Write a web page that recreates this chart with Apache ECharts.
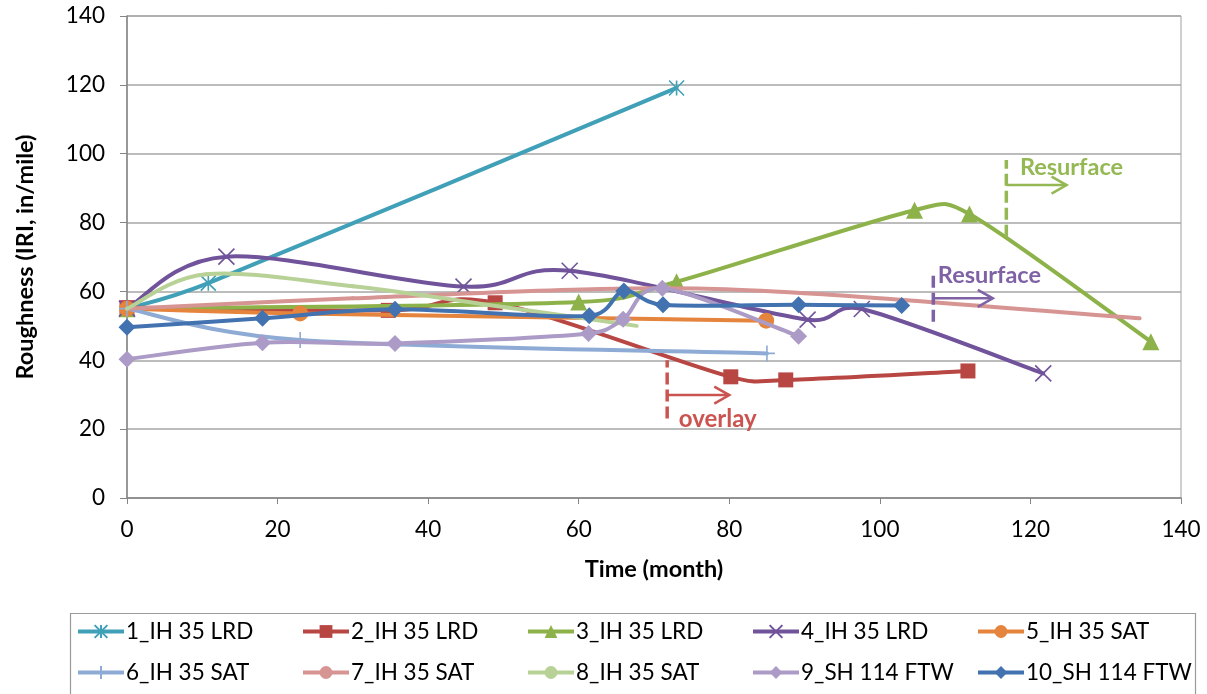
<!DOCTYPE html>
<html>
<head>
<meta charset="utf-8">
<script src="https://cdn.jsdelivr.net/npm/echarts@6/dist/echarts.min.js"></script>
<style>html,body{margin:0;padding:0;background:#fff}#c{width:1207px;height:694px}</style>
</head>
<body>
<div id="c"></div>
<script>
// ---- data (month, IRI in/mile) ----
const names = ['1_IH 35 LRD','2_IH 35 LRD','3_IH 35 LRD','4_IH 35 LRD','5_IH 35 SAT',
               '6_IH 35 SAT','7_IH 35 SAT','8_IH 35 SAT','9_SH 114 FTW','10_SH 114 FTW'];
const s1x = [0, 10.8, 73];            const s1y = [55, 62.4, 119.1];
const s2x = [0, 34.7, 48.9, 80.2, 87.5, 111.7]; const s2y = [55.3, 54.5, 56.7, 35.2, 34.3, 36.9];
const s3x = [0, 60, 73, 104.6, 111.9, 136];     const s3y = [55, 56.9, 62.8, 83.6, 82.5, 45.4];
const s4x = [0, 13.2, 44.7, 58.8, 90.4, 97.6, 121.7]; const s4y = [55, 70.1, 61.4, 66, 51.8, 54.9, 36.2];
const s5x = [0, 23, 84.9];            const s5y = [55, 53.6, 51.5];
const s6x = [0, 23, 85];              const s6y = [55, 45.9, 42];
const s7x = [0, 30, 65, 90, 134.5];   const s7y = [55, 58, 60.8, 59.5, 52.2];
const s8x = [0, 10.5, 30, 50, 67.7];  const s8y = [55, 65, 61.5, 55.5, 50];
const s9x = [0, 18, 35.6, 61.3, 65.9, 71.1, 89.2]; const s9y = [40.3, 45.1, 44.9, 47.8, 51.9, 60.9, 47];
const s10x = [0, 18, 35.6, 61.4, 66, 71.2, 89.2, 102.9]; const s10y = [49.6, 52.2, 54.8, 52.9, 60.1, 56.1, 56.1, 55.9];
const xTicks = [0, 20, 40, 60, 80, 100, 120, 140];
const yTicks = [0, 20, 40, 60, 80, 100, 120, 140];
// annotations: [lineX, lineYFrom, lineYTo, arrowY, arrowXTo, textX, textY]
const annOverlay   = [71.75, 23.1, 40, 29.9, 80, 73.3, 23.0];
const annResurfG   = [116.8, 75.9, 98.2, 90.9, 124.8, 118.6, 96.1];
const annResurfP   = [107.1, 51.2, 64.8, 58, 115, 107.7, 64.6];
const annTexts = ['overlay', 'Resurface', 'Resurface'];

const xs = [s1x,s2x,s3x,s4x,s5x,s6x,s7x,s8x,s9x,s10x];
const ys = [s1y,s2y,s3y,s4y,s5y,s6y,s7y,s8y,s9y,s10y];
const colors = ['#40A0B8','#B84744','#8DB24A','#70539A','#E5843C','#8EABD5','#D69492','#B8D196','#AB9BC6','#4272B0'];
const symbols = ['path://M0 0L10 10M10 0L0 10M5 0L5 10', 'rect', 'triangle', 'path://M0 0L10 10M10 0L0 10',
                 'circle', 'path://M5 0L5 10M0 5L10 5', 'none', 'none', 'diamond', 'diamond'];
const symSizes = [15, 15, 17, 16, 16, 16, 0, 0, 17, 17];
const strokeSym = [true, false, false, true, false, true, false, false, false, false];
const FONT = 'Lato';
const LW = 4;
const ARM = 0.55;

function ctrl(p0, p1, p2, segLen) {
  const vx = p2[0] - p0[0], vy = p2[1] - p0[1];
  const L = Math.hypot(vx, vy);
  if (L === 0) return [p1[0], p1[1]];
  const arm = Math.min(L / 6, ARM * segLen);
  return [p1[0] + vx / L * arm, p1[1] + vy / L * arm];
}

const series = [];
// smooth curves through the data points, computed in pixel space via the axes
names.forEach((n, i) => {
  series.push({
    type: 'custom', coordinateSystem: 'cartesian2d', silent: true, z: 2 + 2 * i,
    data: xs[i].map((x, k) => [x, ys[i][k]]),
    renderItem: function (params, api) {
      const k = params.dataIndexInside, len = params.dataInsideLength;
      if (k >= len - 1) return null;
      const pt = j => api.coord([api.value(0, j), api.value(1, j)]);
      const p1 = pt(k), p2 = pt(k + 1);
      const p0 = k > 0 ? pt(k - 1) : p1;
      const p3 = k + 2 < len ? pt(k + 2) : p2;
      const seg = Math.hypot(p2[0] - p1[0], p2[1] - p1[1]);
      const c1 = ctrl(p0, p1, p2, seg);
      const c2 = ctrl(p3, p2, p1, seg);
      return {type: 'bezierCurve', shape: {
          x1: p1[0], y1: p1[1], x2: p2[0], y2: p2[1],
          cpx1: c1[0], cpy1: c1[1], cpx2: c2[0], cpy2: c2[1]},
        style: {stroke: colors[i], lineWidth: LW, fill: null, lineCap: 'round'}};
    }
  });
});
// markers + legend entries
names.forEach((n, i) => {
  series.push({
    name: n, type: 'line',
    data: xs[i].map((x, k) => [x, ys[i][k]]),
    symbol: symbols[i], symbolSize: symSizes[i], showSymbol: symbols[i] !== 'none',
    lineStyle: {color: colors[i], width: LW, opacity: 0},
    itemStyle: strokeSym[i] ? {color: colors[i], borderColor: colors[i], borderWidth: 1.6}
                            : {color: colors[i], borderColor: colors[i], borderWidth: 0},
    emphasis: {disabled: true}, z: 3 + 2 * i
  });
});

function annSeries(arr, color, text, size) {
  return {
    type: 'custom', coordinateSystem: 'cartesian2d', silent: true, z: 30,
    data: [arr],
    renderItem: function (params, api) {
      const p0 = api.coord([api.value(0), api.value(1)]);
      const p1 = api.coord([api.value(0), api.value(2)]);
      const a0 = api.coord([api.value(0), api.value(3)]);
      const a1 = api.coord([api.value(4), api.value(3)]);
      const t = api.coord([api.value(5), api.value(6)]);
      return {type: 'group', children: [
        {type: 'line', shape: {x1: p0[0], y1: p0[1], x2: p1[0], y2: p1[1]},
         style: {stroke: color, lineWidth: 3.5, lineDash: [12, 5]}},
        {type: 'line', shape: {x1: a0[0], y1: a0[1], x2: a1[0], y2: a1[1]},
         style: {stroke: color, lineWidth: 2.5}},
        {type: 'polyline', shape: {points: [[a1[0] - 15, a1[1] - 8.5], [a1[0], a1[1]], [a1[0] - 15, a1[1] + 8.5]]},
         style: {stroke: color, lineWidth: 2.5, fill: null}},
        {type: 'text', style: {text: text, x: t[0], y: t[1], fill: color,
          font: 'bold ' + size + 'px ' + FONT, fontSize: size, fontWeight: 'bold', fontFamily: FONT,
          align: 'left', verticalAlign: 'middle', textAlign: 'left', textVerticalAlign: 'middle'}}
      ]};
    }
  };
}
series.push(annSeries(annOverlay, '#CB5451', annTexts[0], 24));
series.push(annSeries(annResurfG, '#94B853', annTexts[1], 23.5));
series.push(annSeries(annResurfP, '#7E62A5', annTexts[2], 23.5));

const legends = names.map((n, i) => ({
  data: [n], left: 76 + (i % 5) * 225, top: i < 5 ? 620 : 661,
  itemWidth: 46, itemHeight: 16, padding: 0, itemGap: 0, selectedMode: false,
  lineStyle: {width: LW, opacity: 1},
  textStyle: {fontFamily: FONT, fontSize: 22.5, color: '#000', padding: [0, 0, 0, -3]}
}));

const chart = echarts.init(document.getElementById('c'));
chart.setOption({
  animation: false,
  backgroundColor: '#fff',
  grid: {left: 127, top: 16, right: 26, bottom: 196, show: true, borderColor: '#A0A0A0', borderWidth: 1},
  xAxis: {
    type: 'value', min: xTicks[0], max: xTicks[xTicks.length - 1], interval: xTicks[1] - xTicks[0],
    name: 'Time (month)', nameLocation: 'middle', nameGap: 59,
    nameTextStyle: {fontFamily: FONT, fontSize: 23.5, fontWeight: 'bold', color: '#000'},
    axisLine: {lineStyle: {color: '#868686', width: 1.5}},
    axisTick: {show: true, inside: false, length: 6, lineStyle: {color: '#868686'}},
    axisLabel: {fontFamily: FONT, fontSize: 22.5, color: '#000', margin: 20},
    splitLine: {show: false}
  },
  yAxis: {
    type: 'value', min: yTicks[0], max: yTicks[yTicks.length - 1], interval: yTicks[1] - yTicks[0],
    name: 'Roughness (IRI, in/mile)', nameLocation: 'middle', nameGap: 90, nameRotate: 90,
    nameTextStyle: {fontFamily: FONT, fontSize: 23.5, fontWeight: 'bold', color: '#000'},
    axisLine: {show: true, lineStyle: {color: '#868686', width: 1.5}},
    axisTick: {show: true, inside: false, length: 7, lineStyle: {color: '#868686'}},
    axisLabel: {fontFamily: FONT, fontSize: 22.5, color: '#000', margin: 22},
    splitLine: {show: true, lineStyle: {color: '#A6A6A6', width: 1.5}}
  },
  legend: legends,
  graphic: [{type: 'rect', left: 68, top: 611, z: -1,
    shape: {width: 1125, height: 100}, style: {fill: 'none', stroke: '#9A9A9A', lineWidth: 1.2}}],
  series: series
});
</script>
</body>
</html>
